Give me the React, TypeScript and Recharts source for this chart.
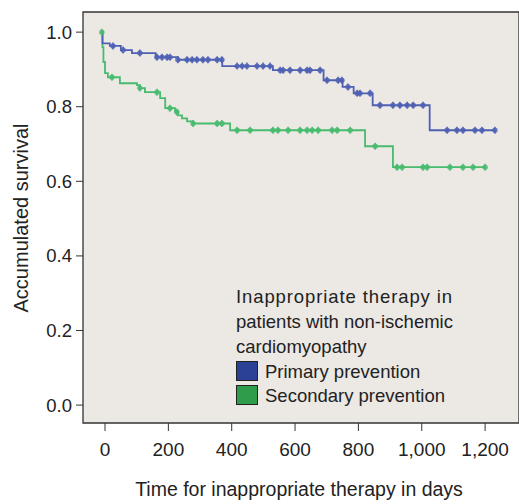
import { ComposedChart, Line, Scatter, XAxis, YAxis, CartesianGrid, ReferenceArea, Label } from 'recharts';

// Kaplan-Meier steps (day, accumulated survival)
const primaryDays = [-10, -8, 15, 50, 85, 160, 230, 370, 530, 690, 750, 785, 845, 1025, 1232];
const primarySurvival = [1.0, 0.97, 0.963, 0.952, 0.944, 0.933, 0.926, 0.909, 0.898, 0.871, 0.853, 0.836, 0.804, 0.737, 0.737];
const primaryCensored = [
  25, 57, 110, 164, 180, 196, 205, 230, 259, 275, 290, 309, 325, 354, 369, 417, 433, 448, 480, 499, 521, 553, 562,
  584, 616, 638, 647, 679, 701, 736, 748, 767, 796, 805, 837, 868, 909, 931, 954, 973, 1004, 1080, 1111, 1130, 1168,
  1190, 1231,
];

const secondaryDays = [-10, -8, -5, 0, 9, 47, 101, 110, 126, 174, 190, 221, 230, 243, 259, 278, 395, 821, 909, 1200];
const secondarySurvival = [
  1.0, 0.96, 0.92, 0.89, 0.879, 0.863, 0.858, 0.85, 0.839, 0.823, 0.796, 0.786, 0.777, 0.769, 0.761, 0.755, 0.737,
  0.694, 0.638, 0.638,
];
const secondaryCensored = [
  -10, 22, 110, 164, 205, 227, 278, 354, 369, 417, 458, 530, 546, 578, 616, 638, 654, 673, 717, 733, 774, 853, 922,
  938, 1004, 1017, 1089, 1130, 1162, 1200,
];

const xTicks = [0, 200, 400, 600, 800, 1000, 1200];
const yTicks = [0, 0.2, 0.4, 0.6, 0.8, 1.0];

const BLUE = '#4D60B3';
const GREEN = '#47BB6E';
const FONT = '"Liberation Sans", Arial, Helvetica, sans-serif';

const X_DOMAIN = [-69.5, 1307];
const Y_DOMAIN = [-0.048, 1.054];

function toRows(days: number[], surv: number[]) {
  return days.map((d, i) => ({ day: d, surv: surv[i] }));
}

// place a censor mark on the curve at that day
function censorRows(censored: number[], days: number[], surv: number[]) {
  return censored.map((d) => {
    let v = surv[0];
    for (let i = 0; i < days.length; i++) {
      if (days[i] <= d) v = surv[i];
    }
    return { day: d, surv: v };
  });
}

const primaryRows = toRows(primaryDays, primarySurvival);
const secondaryRows = toRows(secondaryDays, secondarySurvival);
const primaryMarks = censorRows(primaryCensored, primaryDays, primarySurvival);
const secondaryMarks = censorRows(secondaryCensored, secondaryDays, secondarySurvival);

const censorShape = (color: string) => (props: any) => {
  const { cx, cy } = props;
  return (
    <g>
      <line x1={cx} x2={cx} y1={cy - 3.5} y2={cy + 3.5} stroke={color} strokeWidth={1.4} />
      <circle cx={cx} cy={cy} r={2.7} fill={color} fillOpacity={0.85} />
    </g>
  );
};

export default function App() {
  return (
    <div style={{ position: 'absolute', left: 0, top: 0, width: 519, height: 504, background: '#fff', fontFamily: FONT }}>
      <ComposedChart width={519} height={504} margin={{ top: 12, right: 0, left: 0, bottom: 0 }}>
        <CartesianGrid fill="#ECE8E4" horizontal={false} vertical={false} />
        <ReferenceArea
          x1={X_DOMAIN[0]}
          x2={X_DOMAIN[1]}
          y1={Y_DOMAIN[0]}
          y2={Y_DOMAIN[1]}
          fill="none"
          fillOpacity={0}
          stroke="#333"
          strokeWidth={1.3}
        />
        <XAxis
          type="number"
          dataKey="day"
          domain={X_DOMAIN}
          ticks={xTicks}
          allowDataOverflow
          height={81}
          axisLine={false}
          tickSize={8}
          tickMargin={12}
          tickLine={{ stroke: '#333' }}
          tick={{ fontSize: 19, fill: '#222', fontFamily: FONT }}
          tickFormatter={(v: number) => v.toLocaleString('en-US')}
        >
          <Label
            content={() => (
              <text
                x={299}
                y={489}
                textAnchor="middle"
                dominantBaseline="central"
                fontSize={19.5}
                fill="#222"
                fontFamily={FONT}
              >
                Time for inappropriate therapy in days
              </text>
            )}
          />
        </XAxis>
        <YAxis
          type="number"
          domain={Y_DOMAIN}
          ticks={yTicks}
          allowDataOverflow
          width={83}
          axisLine={false}
          tickSize={7}
          tickMargin={4}
          tickLine={{ stroke: '#333' }}
          tick={{ fontSize: 18.5, fill: '#222', fontFamily: FONT }}
          tickFormatter={(v: number) => v.toFixed(1)}
        >
          <Label
            content={() => (
              <text
                x={21}
                y={218}
                transform="rotate(-90 21 218)"
                textAnchor="middle"
                dominantBaseline="central"
                fontSize={20}
                fill="#222"
                fontFamily={FONT}
              >
                Accumulated survival
              </text>
            )}
          />
        </YAxis>
        <Line
          data={secondaryRows}
          dataKey="surv"
          type="stepAfter"
          stroke={GREEN}
          strokeWidth={1.8}
          dot={false}
          activeDot={false}
          isAnimationActive={false}
        />
        <Line
          data={primaryRows}
          dataKey="surv"
          type="stepAfter"
          stroke={BLUE}
          strokeWidth={1.8}
          dot={false}
          activeDot={false}
          isAnimationActive={false}
        />
        <Scatter data={secondaryMarks} dataKey="surv" shape={censorShape(GREEN)} isAnimationActive={false} />
        <Scatter data={primaryMarks} dataKey="surv" shape={censorShape(BLUE)} isAnimationActive={false} />
      </ComposedChart>

      <div style={{ position: 'absolute', left: 236, top: 284, fontSize: 18.5, color: '#222', lineHeight: '25px' }}>
        <div style={{ letterSpacing: 0.9 }}>Inappropriate therapy in</div>
        <div>patients with non-ischemic</div>
        <div>cardiomyopathy</div>
        <div style={{ display: 'flex', alignItems: 'center', height: 24 }}>
          <span style={{ width: 20, height: 18, background: '#2B4196', border: '1px solid #222', marginRight: 7 }} />
          Primary prevention
        </div>
        <div style={{ display: 'flex', alignItems: 'center', height: 24 }}>
          <span style={{ width: 20, height: 18, background: '#2F9C4B', border: '1px solid #222', marginRight: 7 }} />
          Secondary prevention
        </div>
      </div>
    </div>
  );
}
